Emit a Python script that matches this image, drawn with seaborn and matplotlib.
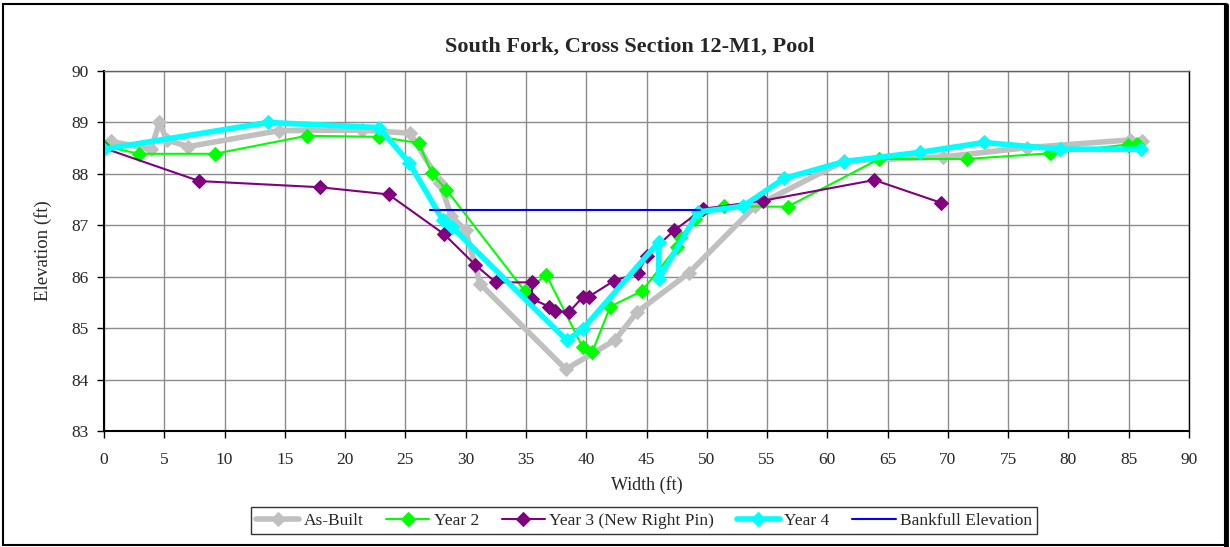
import matplotlib
matplotlib.use("Agg")
import matplotlib.pyplot as plt
import seaborn as sns
import pandas as pd
from matplotlib.patches import Rectangle
from matplotlib.lines import Line2D

sns.set_style("white")
plt.rcParams['font.family'] = ['Liberation Serif', 'DejaVu Serif']

asbuilt_x = [0, 0.6, 3.9, 4.6, 5.2, 7.0, 14.5, 21.4, 25.4, 27.9, 28.8, 30.0, 31.2, 38.3, 42.4, 44.2, 48.5, 54.0, 61.4, 69.6, 76.6, 85.1, 86.1]
asbuilt_y = [88.5, 88.63, 88.48, 89.0, 88.66, 88.53, 88.84, 88.85, 88.79, 87.82, 87.18, 86.9, 85.86, 84.2, 84.77, 85.31, 86.07, 87.37, 88.25, 88.33, 88.51, 88.66, 88.63]

year2_x = [0, 2.9, 9.2, 16.8, 22.8, 26.1, 27.2, 28.4, 34.9, 36.7, 39.7, 40.5, 42.0, 44.6, 47.5, 47.8, 49.0, 51.4, 56.7, 64.3, 71.6, 78.5, 84.9, 85.7]
year2_y = [88.54, 88.39, 88.39, 88.74, 88.72, 88.6, 88.01, 87.69, 85.72, 86.03, 84.63, 84.54, 85.42, 85.72, 86.57, 86.77, 87.12, 87.37, 87.36, 88.29, 88.29, 88.4, 88.57, 88.58]

year3_x = [0, 7.9, 17.9, 23.6, 28.2, 30.8, 32.5, 35.5, 35.5, 36.9, 37.4, 38.6, 39.7, 40.2, 42.3, 44.3, 45.0, 47.3, 49.7, 54.7, 63.9, 69.4]
year3_y = [88.5, 87.86, 87.74, 87.6, 86.83, 86.23, 85.89, 85.89, 85.57, 85.42, 85.33, 85.32, 85.6, 85.61, 85.92, 86.07, 86.4, 86.9, 87.32, 87.48, 87.88, 87.44]

year4_x = [0, 13.6, 22.8, 25.3, 28.1, 28.9, 38.4, 39.7, 46.0, 46.0, 49.3, 53.0, 56.4, 61.4, 67.7, 73.0, 79.3, 86.0]
year4_y = [88.48, 89.0, 88.9, 88.22, 87.1, 86.96, 84.76, 84.98, 86.67, 85.95, 87.26, 87.37, 87.91, 88.24, 88.42, 88.61, 88.48, 88.48]

bankfull_x = [27.0, 49.4]
bankfull_y = [87.3, 87.3]

series = [
    ("As-Built", asbuilt_x, asbuilt_y, "#C0C0C0", 4, "D", 7),
    ("Year 2", year2_x, year2_y, "#00FF00", 1.5, "D", 7),
    ("Year 3 (New Right Pin)", year3_x, year3_y, "#800080", 1.5, "D", 7),
    ("Year 4", year4_x, year4_y, "#00FFFF", 4, "D", 7),
    ("Bankfull Elevation", bankfull_x, bankfull_y, "#0000FF", 1.5, None, 0),
]

fig = plt.figure(figsize=(12.3, 5.47), dpi=100)
ax = fig.add_axes([104/1230, 1-431/547, (1189-104)/1230, (431-71)/547])

for name, xs, ys, col, lw, mk, ms in series:
    df = pd.DataFrame({"x": xs, "y": ys})
    kw = dict(marker=mk, markersize=ms, markeredgecolor=col, markerfacecolor=col) if mk else {}
    sns.lineplot(data=df, x="x", y="y", ax=ax, sort=False, estimator=None,
                 color=col, linewidth=lw, label=name, **kw)

ax.set_xlim(0, 90)
ax.set_ylim(83, 90)
ax.set_xticks(range(0, 91, 5))
ax.set_yticks(range(83, 91, 1))
ax.grid(True, color="#8c8c8c", linewidth=1)
ax.tick_params(axis="both", direction="out", length=5, width=1, color="black",
               labelsize=12.5, bottom=True, left=True)
ax.tick_params(axis="x", pad=10)
ax.tick_params(axis="y", pad=6)
for s in ax.spines.values():
    s.set_color("black")
    s.set_linewidth(1)
ax.spines["left"].set_linewidth(1.5)
ax.spines["bottom"].set_linewidth(1.5)
ax.spines["top"].set_color("#606060")

ax.set_xlabel("Width (ft)", fontsize=13, labelpad=6)
ax.set_ylabel("Elevation (ft)", fontsize=13.5, labelpad=14)
ax.set_title("South Fork, Cross Section 12-M1, Pool", fontsize=16, fontweight="bold", pad=14,
             x=(630 - 104) / 1085)

leg = ax.legend(loc="center", bbox_to_anchor=(644/1230, 1-520.5/547), bbox_transform=fig.transFigure,
                ncol=5, frameon=True, fancybox=False, fontsize=12.5, handlelength=2.5,
                columnspacing=1.3, handletextpad=0.25, borderpad=0.3)
leg.get_frame().set_edgecolor("black")
leg.get_frame().set_linewidth(1)

fig.patches.append(Rectangle((3/1230, 2/547), 1222/1230, 541/547, transform=fig.transFigure,
                             fill=False, edgecolor="black", linewidth=1.5))
fig.lines.append(Line2D([1226/1230, 1226/1230], [0, 1 - 5/547], transform=fig.transFigure,
                        color="black", linewidth=3.5))

fig.savefig("out.png", dpi=100)
